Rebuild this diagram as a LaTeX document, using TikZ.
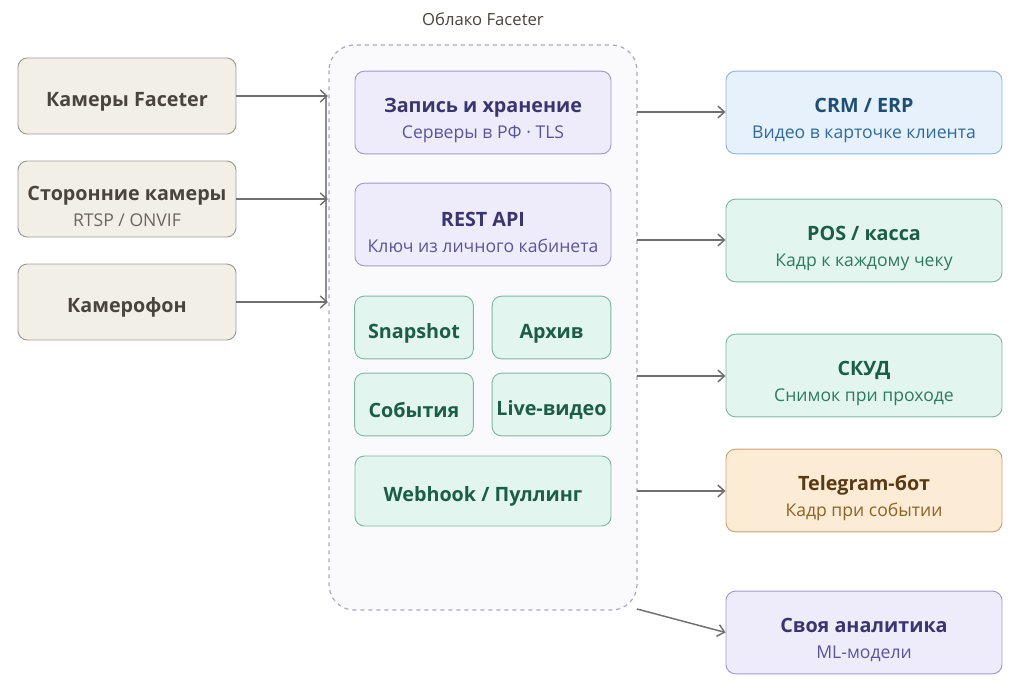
\documentclass[tikz,border=0pt]{standalone}
\usepackage{fontspec}
\setmainfont{Open Sans}
\usetikzlibrary{arrows.meta}
\definecolor{srcfill}{HTML}{F2EFE7}
\definecolor{srcline}{HTML}{9E9B91}
\definecolor{srctext}{HTML}{48443E}
\definecolor{srcsub}{HTML}{6B675F}
\definecolor{cloudfill}{HTML}{FAFAFD}
\definecolor{cloudline}{HTML}{AFA3CC}
\definecolor{lavfill}{HTML}{EEECFB}
\definecolor{lavline}{HTML}{9F98CC}
\definecolor{lavtext}{HTML}{3A3470}
\definecolor{lavsub}{HTML}{5B53A0}
\definecolor{mintfill}{HTML}{E2F5EE}
\definecolor{mintline}{HTML}{80B7A0}
\definecolor{minttext}{HTML}{1B5E47}
\definecolor{mintsub}{HTML}{2E7A60}
\definecolor{bluefill}{HTML}{E6F1FC}
\definecolor{blueline}{HTML}{8FB5D8}
\definecolor{bluetext}{HTML}{1E4D78}
\definecolor{bluesub}{HTML}{2E6A9F}
\definecolor{orgfill}{HTML}{FCEBD5}
\definecolor{orgline}{HTML}{C7A374}
\definecolor{orgtext}{HTML}{5A3A12}
\definecolor{orgsub}{HTML}{8B6424}
\definecolor{arrowgray}{HTML}{707070}
\tikzset{
  box/.style={rounded corners=7pt, draw, line width=0.7pt, align=center, inner sep=0pt},
  srcbox/.style={box, fill=srcfill, draw=srcline, text=srctext, minimum width=163.5pt, minimum height=57pt},
  lavbox/.style={box, fill=lavfill, draw=lavline, text=lavtext, minimum width=192pt, minimum height=62pt},
  mintbox/.style={box, fill=mintfill, draw=mintline, text=minttext, minimum width=89pt, minimum height=47pt},
  outbox/.style={box, minimum width=207pt, minimum height=62pt},
  ttl/.style={font=\bfseries\fontsize{14.8}{17}\selectfont, execute at begin node={\rule{0pt}{19.5pt}}},
  link/.style={draw=arrowgray, line width=1.1pt, -{Straight Barb[length=5pt,width=9pt]}},
}
% title + subtitle
\newcommand{\twoline}[3]{\rule{0pt}{22pt}#1\\[2.5pt]{\fontsize{13.2}{15}\mdseries\selectfont\color{#2}#3}}
\begin{document}
\begin{tikzpicture}[x=0.75pt, y=-0.75pt]
    \useasboundingbox (0,0) rectangle (1024,696);
    %Облако
    \node[font=\fontsize{12.5}{14}\selectfont, text=srctext] (cloudlabel) at (483,19) {Облако Faceter};
    \filldraw[fill=cloudfill, draw=cloudline, dashed, line width=0.9pt, rounded corners=19pt] (329,45) rectangle (637,610);
    \coordinate (cloudL1) at (328,96);
    \coordinate (cloudL2) at (328,199);
    \coordinate (cloudL3) at (328,302);
    \coordinate (cloudR1) at (637,112);
    \coordinate (cloudR2) at (637,240);
    \coordinate (cloudR3) at (637,376);
    \coordinate (cloudR4) at (637,491);
    \coordinate (cloudR5) at (637,609);
    %Источники
    \node[srcbox, ttl] (facecam) at (127,96) {Камеры Faceter};
    \node[srcbox, ttl] (thirdcam) at (127,199) {\twoline{Сторонние камеры}{srcsub}{RTSP / ONVIF}};
    \node[srcbox, ttl] (camphone) at (127,302) {Камерофон};
    %Внутри облака
    \node[lavbox, ttl] (storage) at (483,112.5) {\twoline{Запись и хранение}{lavsub}{Серверы в РФ · TLS}};
    \node[lavbox, ttl] (restapi) at (483,224.5) {\twoline{REST API}{lavsub}{Ключ из личного кабинета}};
    \node[mintbox, ttl] (snapshot) at (414,327.5) {Snapshot};
    \node[mintbox, ttl] (archive) at (551.5,327.5) {Архив};
    \node[mintbox, ttl] (events) at (414,404.5) {События};
    \node[mintbox, ttl] (livevideo) at (551.5,404.5) {Live-видео};
    \node[mintbox, ttl, minimum width=192pt, minimum height=52.5pt] (webhook) at (483,491) {Webhook / Пуллинг};
    %Потребители
    \node[outbox, ttl, fill=bluefill, draw=blueline, text=bluetext] (crm) at (864,112.5) {\twoline{CRM / ERP}{bluesub}{Видео в карточке клиента}};
    \node[outbox, ttl, fill=mintfill, draw=mintline, text=minttext] (pos) at (864,240.5) {\twoline{POS / касса}{mintsub}{Кадр к каждому чеку}};
    \node[outbox, ttl, fill=mintfill, draw=mintline, text=minttext] (skud) at (864,375.5) {\twoline{СКУД}{mintsub}{Снимок при проходе}};
    \node[outbox, ttl, fill=orgfill, draw=orgline, text=orgtext] (tgbot) at (864,490.5) {\twoline{Telegram-бот}{orgsub}{Кадр при событии}};
    \node[outbox, ttl, fill=lavfill, draw=lavline, text=lavtext] (analytics) at (864,632.5) {\twoline{Своя аналитика}{lavsub}{ML-модели}};
    %Связи
    \draw[draw=arrowgray!80, line width=0.9pt] (326,96) -- (326,302);
    \draw[link] (facecam) -- (cloudL1);
    \draw[link] (thirdcam) -- (cloudL2);
    \draw[link] (camphone) -- (cloudL3);
    \draw[link] (cloudR1) -- (crm.west |- cloudR1);
    \draw[link] (cloudR2) -- (pos.west |- cloudR2);
    \draw[link] (cloudR3) -- (skud.west |- cloudR3);
    \draw[link] (cloudR4) -- (tgbot.west |- cloudR4);
    \draw[link] (cloudR5) -- (analytics.west);
\end{tikzpicture}
\end{document}
